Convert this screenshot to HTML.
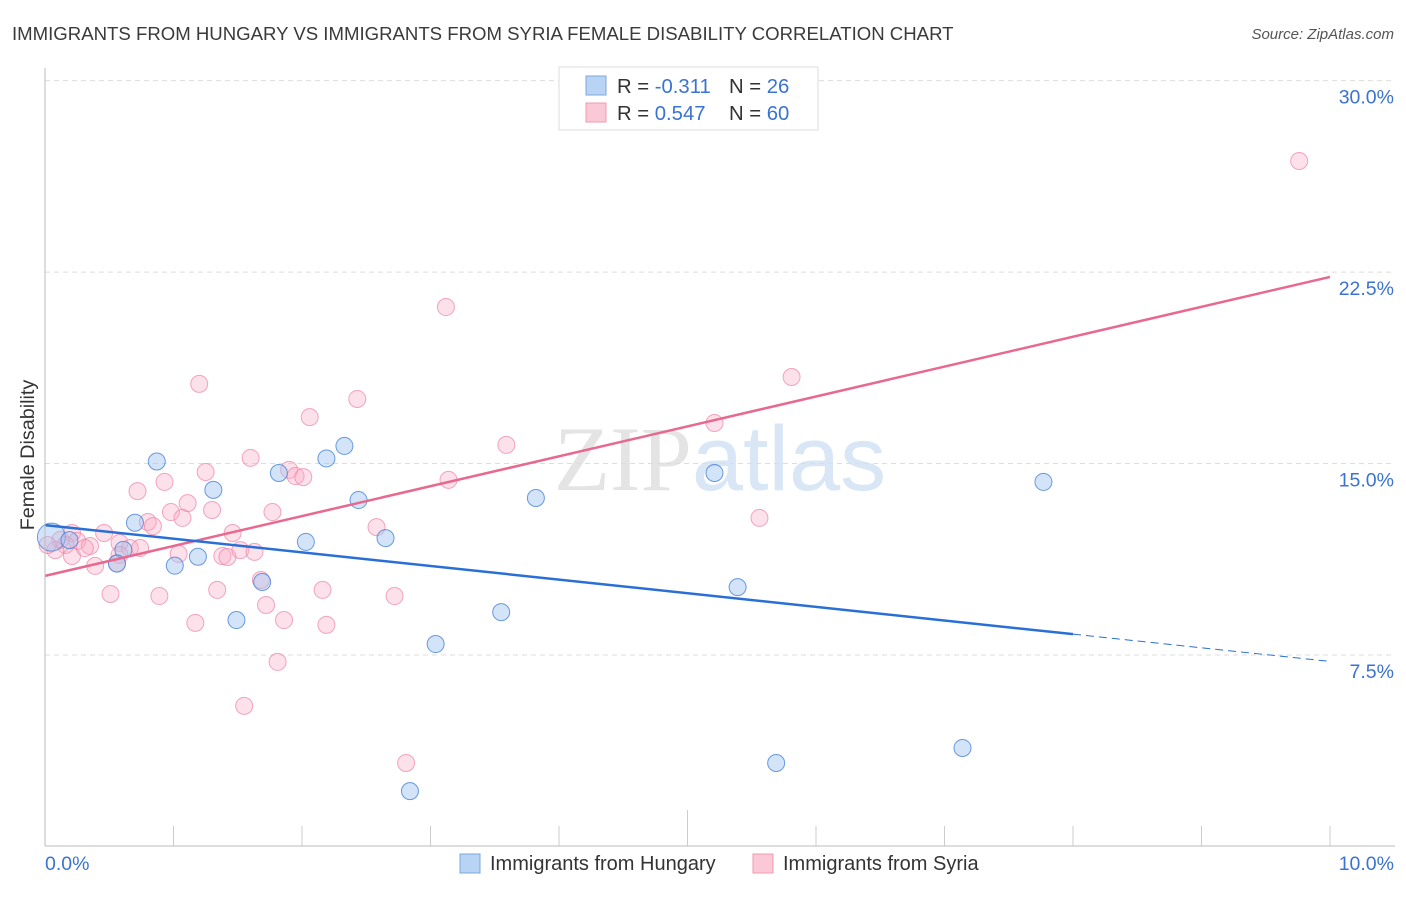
<!DOCTYPE html>
<html><head><meta charset="utf-8"><style>
body{margin:0;background:#fff;width:1406px;height:892px;overflow:hidden;font-family:"Liberation Sans",sans-serif}
svg text{font-family:"Liberation Sans",sans-serif}
</style></head><body>
<svg id="chart" width="1406" height="892" xmlns="http://www.w3.org/2000/svg">
<text x="12" y="40" font-size="18.6" fill="#3a3a3a">IMMIGRANTS FROM HUNGARY VS IMMIGRANTS FROM SYRIA FEMALE DISABILITY CORRELATION CHART</text>
<text x="1394" y="39" font-size="15" fill="#555" text-anchor="end" font-style="italic">Source: ZipAtlas.com</text>
<text x="720" y="490" font-size="92" fill="#e4e4e4" text-anchor="middle" font-family="Liberation Serif"><tspan font-family="Liberation Serif">ZIP</tspan><tspan fill="#d8e6f6" font-family="Liberation Sans">atlas</tspan></text>
<text transform="translate(34,455) rotate(-90)" font-size="19.8" fill="#333" text-anchor="middle">Female Disability</text>
<g id="grid"></g><g id="ticks"></g><g id="pts"></g><g id="lines"></g>
<line x1="45" y1="68" x2="45" y2="846" stroke="#bbb"/>
<line x1="45" y1="846" x2="1395" y2="846" stroke="#bbb"/>
<text x="45" y="870" font-size="19.5" fill="#3b73d1">0.0%</text>
<text x="1394" y="870" font-size="19.5" fill="#3b73d1" text-anchor="end">10.0%</text>
<g>
<rect x="559" y="67" width="259" height="63" fill="#fff" stroke="#ddd"/>
<rect x="586" y="76" width="20" height="19" fill="#b9d3f5" stroke="#7fa6dc"/>
<rect x="586" y="103" width="20" height="19" fill="#fbc8d6" stroke="#ef9bb4"/>
<text x="617" y="93" font-size="20.3" fill="#333">R = <tspan fill="#3b73d1">-0.311</tspan></text>
<text x="729" y="93" font-size="20.3" fill="#333">N = <tspan fill="#3b73d1"> 26</tspan></text>
<text x="617" y="120" font-size="20.3" fill="#333">R = <tspan fill="#3b73d1">0.547</tspan></text>
<text x="729" y="120" font-size="20.3" fill="#333">N = <tspan fill="#3b73d1">60</tspan></text>
</g>
<g>
<rect x="460" y="854" width="20" height="19" fill="#b9d3f5" stroke="#7fa6dc"/>
<text x="490" y="870" font-size="20" fill="#333">Immigrants from Hungary</text>
<rect x="753" y="854" width="20" height="19" fill="#fbc8d6" stroke="#ef9bb4"/>
<text x="783" y="870" font-size="20" fill="#333">Immigrants from Syria</text>
</g>
</svg>
<script>
const yTicks=[7.5,15,22.5,30];
const yTickLabels=["7.5%","15.0%","22.5%","30.0%"];
const hungaryX=[0.05,0.87,0.70,0.61,0.56,1.01,1.19,1.31,1.49,1.69,1.82,2.03,2.19,2.33,2.44,2.65,3.04,3.55,3.82,5.21,5.39,5.69,7.14,7.77,2.84,0.19];
const hungaryY=[12.12,15.08,12.68,11.62,11.08,11.00,11.35,13.97,8.87,10.36,14.63,11.93,15.2,15.69,13.57,12.08,7.93,9.18,13.65,14.63,10.16,3.27,3.86,14.28,2.17,12.0];
const syriaX=[9.76,3.12,1.20,5.81,2.43,2.06,5.21,3.59,1.60,1.25,1.90,1.95,2.01,3.14,0.72,0.93,1.11,0.98,1.30,1.07,1.77,0.80,0.84,1.46,2.58,5.56,0.46,0.12,0.21,0.25,0.35,0.58,0.66,0.16,0.08,0.21,0.39,1.04,1.38,1.42,1.52,1.63,0.58,1.68,0.51,0.89,1.34,2.16,2.72,1.72,1.17,1.86,2.19,1.81,1.55,2.81,0.56,0.02,0.31,0.74];
const syriaY=[26.85,21.13,18.12,18.39,17.53,16.82,16.59,15.73,15.22,14.67,14.75,14.51,14.47,14.36,13.92,14.28,13.45,13.10,13.18,12.87,13.10,12.71,12.55,12.28,12.51,12.87,12.28,12.01,12.28,11.97,11.77,11.89,11.69,11.81,11.61,11.38,10.99,11.46,11.38,11.34,11.61,11.54,11.42,10.44,9.89,9.81,10.05,10.05,9.81,9.46,8.76,8.87,8.68,7.23,5.51,3.27,11.10,11.81,11.69,11.69];
const hungaryTrend=[12.59,-0.534]; // intercept, slope
const syriaTrend=[10.6,1.171];
const hungarySolidEnd=8.0;
const xTicks=[0,1,2,3,4,5,6,7,8,9,10];
const NS="http://www.w3.org/2000/svg";
const xs=v=>45+v*128.5, ys=v=>846.5-v*25.53;
function mk(tag,attrs,parent){const e=document.createElementNS(NS,tag);for(const k in attrs)e.setAttribute(k,attrs[k]);document.getElementById(parent).appendChild(e);return e;}
yTicks.forEach((t,i)=>{
 const l=mk('line',{x1:45,x2:1395,y1:ys(t),y2:ys(t),stroke:'#ddd','stroke-dasharray':'5,4'},'grid');
 
 
 const tx=mk('text',{x:1394,y:ys(t)+23,'font-size':19.5,fill:'#3b73d1','text-anchor':'end'},'grid');
 tx.textContent=yTickLabels[i];
 
 
});
xTicks.forEach(t=>{
 const l=mk('line',{x1:xs(t),x2:xs(t),y1:t==5?810:826,y2:846,stroke:'#ccc'},'ticks');
 
 
});
syriaX.forEach((x,i)=>{
 const c=mk('circle',{cx:xs(x),cy:ys(syriaY[i]),r:8.5,fill:'rgba(248,170,195,0.35)',stroke:'rgba(236,130,165,0.7)','stroke-width':1},'pts');
 
 
});
hungaryX.forEach((x,i)=>{
 const c=mk('circle',{cx:xs(x),cy:ys(hungaryY[i]),r:i==0?14:8.5,fill:'rgba(160,195,240,0.45)',stroke:'rgba(70,130,215,0.8)','stroke-width':1},'pts');
 
 
});
const f=(tr,x)=>tr[0]+tr[1]*x;
let l1=mk('line',{x1:xs(0),y1:ys(f(syriaTrend,0)),x2:xs(10),y2:ys(f(syriaTrend,10)),stroke:'#e8688f','stroke-width':2.5},'lines');


let l2=mk('line',{x1:xs(0),y1:ys(f(hungaryTrend,0)),x2:xs(hungarySolidEnd),y2:ys(f(hungaryTrend,hungarySolidEnd)),stroke:'#2a6fd6','stroke-width':2.5},'lines');


let l3=mk('line',{x1:xs(hungarySolidEnd),y1:ys(f(hungaryTrend,hungarySolidEnd)),x2:xs(10),y2:ys(f(hungaryTrend,10)),stroke:'#2a6fd6','stroke-width':1,'stroke-dasharray':'8,5'},'lines');


</script>
</body></html>
